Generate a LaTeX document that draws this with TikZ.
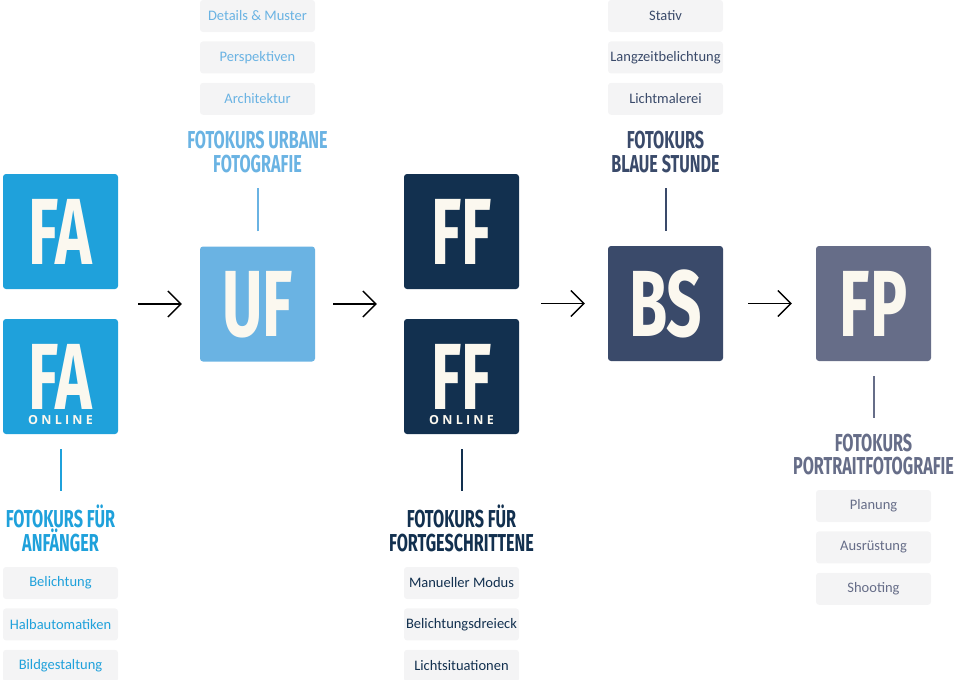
\documentclass[tikz,border=0pt]{standalone}
\usepackage{fontspec}
\setmainfont{Carlito}
\newfontfamily\headfont[FakeStretch=0.66]{Fira Sans}
\newfontfamily\onlinefont[LetterSpace=26]{Open Sans}
\usepackage{xcolor}
\usepackage{tikz}
\usetikzlibrary{positioning,arrows.meta}
\definecolor{fa}{HTML}{1FA1DB}
\definecolor{uf}{HTML}{6AB3E3}
\definecolor{ff}{HTML}{12304F}
\definecolor{bs}{HTML}{3A4A6A}
\definecolor{fp}{HTML}{666D88}
\definecolor{itembg}{HTML}{F4F4F5}
\definecolor{creme}{HTML}{FBF8EF}
\tikzset{buchst/.style={inner sep=0pt,text=creme,text depth=0pt,font=\headfont\bfseries\fontsize{94}{94}\selectfont}}
\tikzset{kurs/.style={buchst,rectangle,rounded corners=3pt,fill=#1,minimum width=115pt,minimum height=115pt}}
\tikzset{item/.style={rectangle,rounded corners=3pt,fill=itembg,text=#1,minimum width=115pt,minimum height=32pt,inner sep=0pt,font=\fontsize{14.5}{16}\selectfont}}
\tikzset{titel/.style={align=center,text=#1,font=\headfont\bfseries\fontsize{24.5}{23.5}\selectfont}}
\tikzset{online/.style={text=creme,inner sep=0pt,font=\onlinefont\bfseries\fontsize{12.5}{12.5}\selectfont}}
\tikzset{stiel/.style={draw=#1,line width=2pt}}

\begin{document}
\begin{tikzpicture}[x=1pt,y=-1pt,>={Straight Barb[length=13pt,width=26pt]}]
    \useasboundingbox (0,0) rectangle (956,680);

    \node[kurs=fa] (fa) at (60.5,231.5) {FA};
    \node[kurs=fa] (fao) at (60.5,376.5) {};
    \node[buchst] (faob) at (fao.center) {FA};
    \node[online,above=9pt of fao.south] (faonl) {ONLINE};
    \node[kurs=uf] (uf) at (257.5,304) {UF};
    \node[kurs=ff] (ff) at (461.5,231.5) {FF};
    \node[kurs=ff] (ffo) at (461.5,376.5) {};
    \node[buchst] (ffob) at (ffo.center) {FF};
    \node[online,above=9pt of ffo.south] (ffonl) {ONLINE};
    \node[kurs=bs] (bs) at (665.5,303.5) {BS};
    \node[kurs=fp] (fp) at (873.5,303.5) {FP};

    \node[titel=fa] (fat) at (60.5,528.5) {FOTOKURS FÜR\\ANFÄNGER};
    \node[titel=uf] (uft) at (257.5,152) {FOTOKURS URBANE\\FOTOGRAFIE};
    \node[titel=ff] (fft) at (461.5,528.5) {FOTOKURS FÜR\\FORTGESCHRITTENE};
    \node[titel=bs] (bst) at (665.5,152) {FOTOKURS\\BLAUE STUNDE};
    \node[titel=fp] (fpt) at (873.5,454.5) {FOTOKURS\\PORTRAITFOTOGRAFIE};

    \node[item=fa] (fa1) at (60.5,583) {Belichtung};
    \node[item=fa,below=9pt of fa1] (fa2) {Halbautomatiken};
    \node[item=fa,below=9pt of fa2] (fa3) {Bildgestaltung};
    \node[item=uf] (uf1) at (257.5,16) {Details \& Muster};
    \node[item=uf,below=9pt of uf1] (uf2) {Perspektiven};
    \node[item=uf,below=9pt of uf2] (uf3) {Architektur};
    \node[item=ff] (ff1) at (461.5,583) {Manueller Modus};
    \node[item=ff,below=9pt of ff1] (ff2) {Belichtungsdreieck};
    \node[item=ff,below=9pt of ff2] (ff3) {Lichtsituationen};
    \node[item=bs] (bs1) at (665.5,16) {Stativ};
    \node[item=bs,below=9pt of bs1] (bs2) {Langzeitbelichtung};
    \node[item=bs,below=9pt of bs2] (bs3) {Lichtmalerei};
    \node[item=fp] (fp1) at (873.5,506) {Planung};
    \node[item=fp,below=9pt of fp1] (fp2) {Ausrüstung};
    \node[item=fp,below=9pt of fp2] (fp3) {Shooting};

    \draw [stiel=fa] ([yshift=-15pt]fao.south) -- ([yshift=-57pt]fao.south);
    \draw [stiel=uf] ([yshift=15pt]uf.north) -- ([yshift=58pt]uf.north);
    \draw [stiel=ff] ([yshift=-15pt]ffo.south) -- ([yshift=-57pt]ffo.south);
    \draw [stiel=bs] ([yshift=15pt]bs.north) -- ([yshift=58pt]bs.north);
    \draw [stiel=fp] ([yshift=-15pt]fp.south) -- ([yshift=-57pt]fp.south);

    \draw [->,line width=1.3pt] ([xshift=20pt]fa.east |- uf.west) -- ([xshift=-18pt]uf.west);
    \draw [->,line width=1.3pt] ([xshift=18pt]uf.east) -- ([xshift=-27pt]ff.west |- uf.east);
    \draw [->,line width=1.3pt] ([xshift=22pt]ff.east |- bs.west) -- ([xshift=-23pt]bs.west);
    \draw [->,line width=1.3pt] ([xshift=25pt]bs.east) -- ([xshift=-24pt]fp.west);
\end{tikzpicture}
\end{document}
